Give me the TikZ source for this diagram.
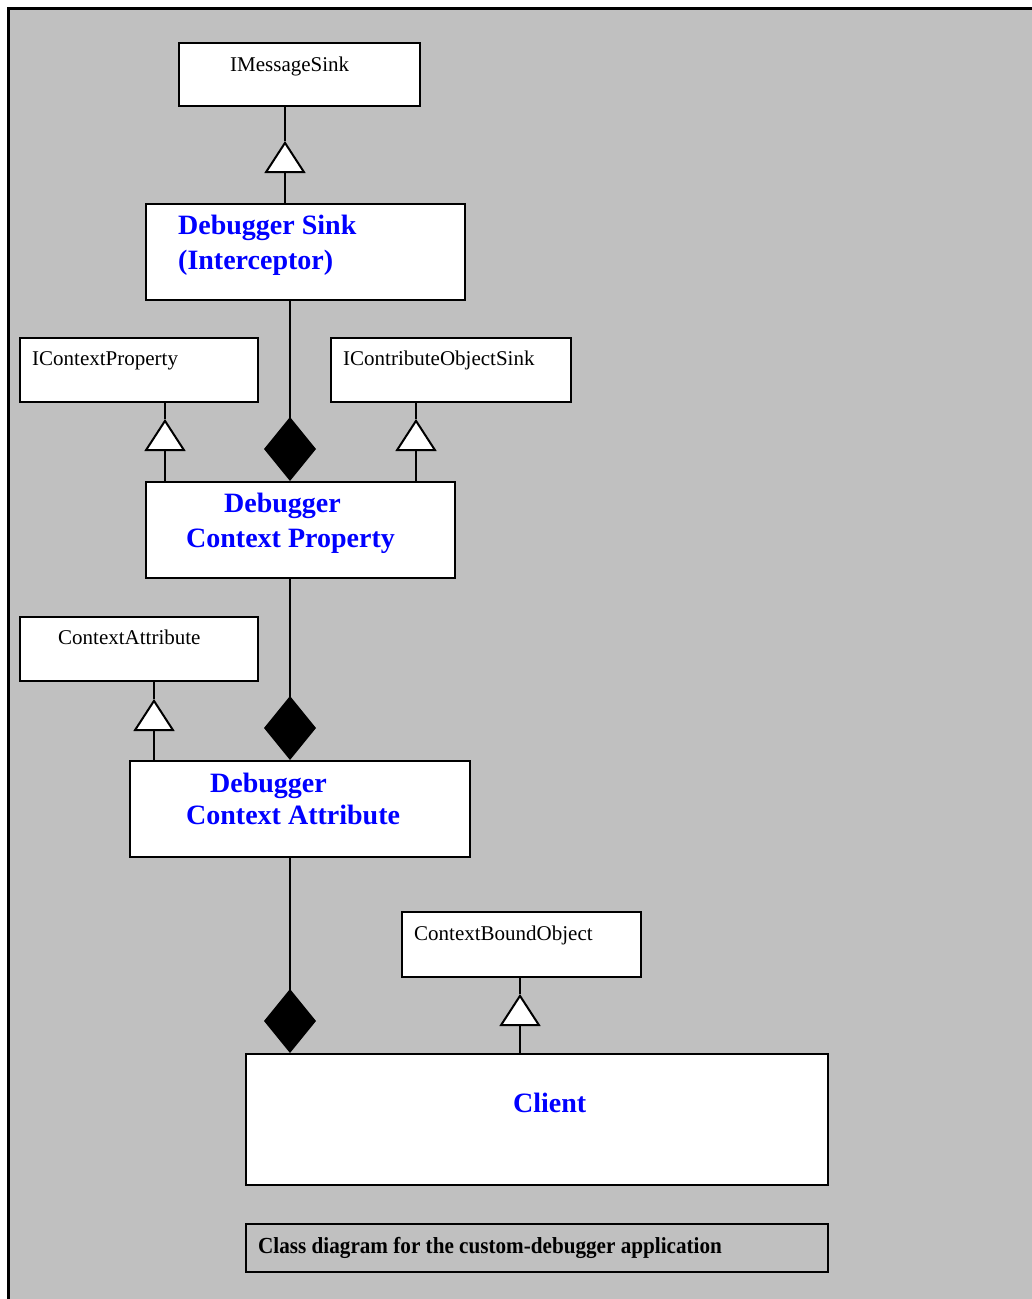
\documentclass[tikz,border=0pt]{standalone}
\usepackage{fontspec}
\setmainfont{Liberation Serif}
\usetikzlibrary{arrows.meta,calc}
\definecolor{panelgray}{RGB}{192,192,192}
\definecolor{titleblue}{RGB}{0,0,255}
\begin{document}
\begin{tikzpicture}[x=1pt,y=-1pt,
  box/.style={draw=black, line width=2pt, fill=white, anchor=north west, inner sep=0pt},
  ifname/.style={anchor=base west, inner sep=0pt, font=\fontsize{21}{25}\selectfont},
  clsname/.style={anchor=base west, inner sep=0pt, text=titleblue, font=\fontsize{28}{34}\selectfont\bfseries},
  link/.style={draw=black, line width=2pt},
  genl/.style={link, -{Triangle[length=32pt,width=41pt,fill=white,line width=2pt]}},
  comp/.style={link, -{Diamond[length=64pt,width=52pt,fill=black]}}
]
\useasboundingbox (0,0) rectangle (1032,1299);
% panel background with its top and left rule
\fill[panelgray] (8,8) rectangle (1032,1299);
\draw[line width=3pt] (8,1299) -- (8,8) -- (1032,8);

% class boxes
\node[box, minimum width=241pt, minimum height=63pt] (ims) at (178,42) {};
\node[box, minimum width=319pt, minimum height=96pt] (ds) at (145,203) {};
\node[box, minimum width=238pt, minimum height=64pt] (cip) at (19,337) {};
\node[box, minimum width=240pt, minimum height=64pt] (cos) at (330,337) {};
\node[box, minimum width=309pt, minimum height=96pt] (dcp) at (145,481) {};
\node[box, minimum width=238pt, minimum height=64pt] (ca) at (19,616) {};
\node[box, minimum width=340pt, minimum height=96pt] (dca) at (129,760) {};
\node[box, minimum width=239pt, minimum height=65pt] (cbo) at (401,911) {};
\node[box, minimum width=582pt, minimum height=131pt] (cl) at (245,1053) {};
\node[box, minimum width=582pt, minimum height=48pt, fill=none] (cap) at (245,1223) {};

% texts
\node[ifname] (imsT) at (230,71) {IMessageSink};
\node[clsname] (dsT1) at (178,234) {Debugger Sink};
\node[clsname] (dsT2) at (178,269) {(Interceptor)};
\node[ifname] (cipT) at (32,365) {IContextProperty};
\node[ifname] (cosT) at (343,365) {IContributeObjectSink};
\node[clsname] (dcpT1) at (224,512) {Debugger};
\node[clsname] (dcpT2) at (186,547) {Context Property};
\node[ifname] (caT) at (58,644) {ContextAttribute};
\node[clsname] (dcaT1) at (210,792) {Debugger};
\node[clsname] (dcaT2) at (186,824) {Context Attribute};
\node[ifname] (cboT) at (414,940) {ContextBoundObject};
\node[clsname] (clT) at (513,1112) {Client};
\node[anchor=base west, inner sep=0pt] (capT) at (258,1253)
  {\scalebox{0.92}[1]{\fontsize{23}{27}\selectfont\bfseries Class diagram for the custom-debugger application}};

% apex points of the generalization triangles
\coordinate (g1) at (285,141);
\coordinate (g2) at (165,419);
\coordinate (g3) at (416,419);
\coordinate (g4) at (154,699);
\coordinate (g5) at (520,994);
% lane of the composition links
\coordinate (c1) at (290,0);

% generalizations
\draw[genl] (ds.north -| g1) -- (g1);
\draw[link] (g1) -- (ims.south -| g1);
\draw[genl] (dcp.north -| g2) -- (g2);
\draw[link] (g2) -- (cip.south -| g2);
\draw[genl] (dcp.north -| g3) -- (g3);
\draw[link] (g3) -- (cos.south -| g3);
\draw[genl] (dca.north -| g4) -- (g4);
\draw[link] (g4) -- (ca.south -| g4);
\draw[genl] (cl.north -| g5) -- (g5);
\draw[link] (g5) -- (cbo.south -| g5);

% compositions
\draw[comp] (ds.south -| c1) -- (dcp.north -| c1);
\draw[comp] (dcp.south -| c1) -- (dca.north -| c1);
\draw[comp] (dca.south -| c1) -- (cl.north -| c1);
\end{tikzpicture}
\end{document}
